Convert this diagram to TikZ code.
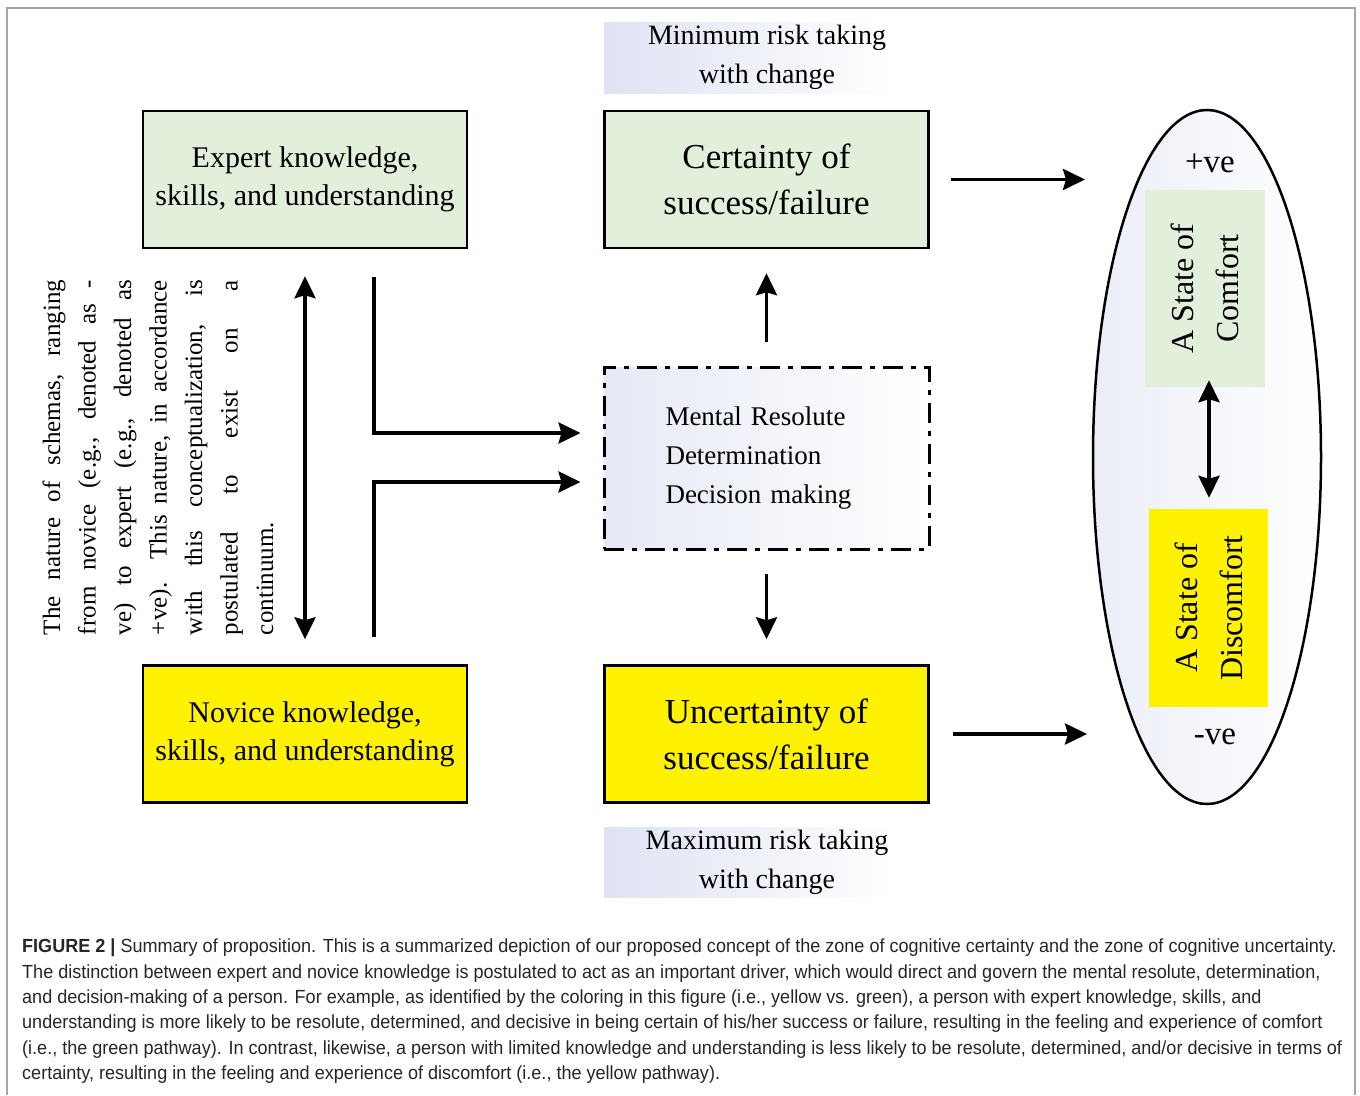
\documentclass[tikz,border=0pt]{standalone}
\usepackage{fontspec}
\setmainfont{Liberation Serif}
\newfontfamily\capfont[FakeStretch=0.95]{Liberation Sans}
\usepackage{xcolor}
\usepackage{tikz}
\usetikzlibrary{positioning,arrows.meta,shapes.geometric}
\definecolor{softgreen}{RGB}{226,239,218}
\definecolor{softblue}{RGB}{222,226,242}
\newcommand{\jline}[1]{\makebox[355pt][s]{#1}}

\begin{document}
\begin{tikzpicture}[x=1pt,y=-1pt,
       Gbox/.style={
           draw,
           line width=2.5pt,
           fill=softgreen,
           minimum width=324pt,
           minimum height=137pt,
           align=center
       },
       Ybox/.style={
           Gbox,
           fill=yellow
       },
       riskshade/.style={left color=softblue, right color=white},
       link/.style={line width=3.5pt, -{Stealth[length=22pt,width=21pt,inset=3pt]}},
       dlink/.style={line width=3.5pt, {Stealth[length=22pt,width=21pt,inset=3pt]}-{Stealth[length=22pt,width=21pt,inset=3pt]}},
       bigfont/.style={font=\fontsize{30}{38}\selectfont},
       hugefont/.style={font=\fontsize{35}{46}\selectfont}
   ]
   \useasboundingbox (0,0) rectangle (1360,1095);

   % frame
   \draw[gray!70, line width=1.5pt] (7,1095) -- (7,8) -- (1355,8) -- (1355,1095);


   % Knowledge side
   \node[Gbox, bigfont] (expert) at (305,179.5) {Expert knowledge,\\skills, and understanding};
   \node[Ybox, bigfont] (novice) at (305,734) {Novice knowledge,\\skills, and understanding};


   % Outcome side
   \node[Gbox, hugefont] (certainty) at (766.5,179.5) {Certainty of\\success/failure};
   \node[Ybox, hugefont] (uncertainty) at (766.5,734) {Uncertainty of\\success/failure};


   % Risk labels
   \fill[riskshade] (604,22) rectangle (890,93);
   \node[align=center, font=\fontsize{28}{39}\selectfont] (minrisk) at (767,57.5) {Minimum risk taking\\with change};
   \fill[riskshade] (604,827) rectangle (893,897);
   \node[align=center, font=\fontsize{28}{39}\selectfont] (maxrisk) at (767,862) {Maximum risk taking\\with change};


   % Mental box
   \node[draw, line width=3pt, dash pattern=on 20pt off 8pt on 5pt off 8pt,
         left color=softblue!75, right color=white,
         minimum width=325pt, minimum height=182pt,
         text width=202pt, align=left,
         font=\fontsize{27}{39}\selectfont] (mental) at (766.5,458)
         {Mental Resolute\\Determination\\Decision making};


   % Continuum text
   \node[rotate=90, align=left, inner sep=0pt, font=\fontsize{25}{35.5}\selectfont] (schema) at (158,457.5)
     {\jline{The nature of schemas, ranging}\\
      \jline{from novice (e.g., denoted as -}\\
      \jline{ve) to expert (e.g., denoted as}\\
      \jline{+ve). This nature, in accordance}\\
      \jline{with this conceptualization, is}\\
      \jline{postulated to exist on a}\\
      continuum.};


   % State ellipse
   \node[ellipse, draw, line width=2.5pt, left color=softblue!60, right color=white,
         minimum width=228pt, minimum height=694pt] (state) at (1207,457) {};
   \node[font=\fontsize{33}{33}\selectfont] (pos) at (1210,163) {+ve};
   \node[font=\fontsize{33}{33}\selectfont] (neg) at (1215,737) {-ve};
   \node[rotate=90, fill=softgreen, minimum width=197pt, minimum height=120pt, align=center,
         font=\fontsize{32}{45}\selectfont] (comfort) at (1205,288.5) {A State of\\Comfort};
   \node[rotate=90, fill=yellow, minimum width=198pt, minimum height=119pt, align=center,
         font=\fontsize{32}{45}\selectfont] (discomfort) at (1208.5,608) {A State of\\Discomfort};


   % Edges
   \draw[dlink, shorten <=27pt, shorten >=25pt] (expert) -- (novice);

   \coordinate (upin) at (374,277);
   \coordinate (downin) at (374,637);
   \draw[link, shorten >=22pt] (upin) |- ([yshift=25pt]mental.west);
   \draw[link, shorten >=22pt] (downin) |- ([yshift=-24pt]mental.west);

   \draw[link, shorten <=24pt, shorten >=24pt] (mental) -- (certainty);
   \draw[link, shorten <=23pt, shorten >=25pt] (mental) -- (uncertainty);

   \coordinate (posin) at (1085,179.5);
   \coordinate (negin) at (1087,734);
   \draw[link, shorten <=21pt] (certainty) -- (posin);
   \draw[link, shorten <=23pt] (uncertainty) -- (negin);

   \draw[dlink, shorten <=-7pt, shorten >=11pt] (comfort.west -| 1209,0) -- (discomfort.east -| 1209,0);


   % Caption
   \node[anchor=north west, align=left, inner sep=0pt, text=black!85,
         font=\capfont\fontsize{19}{25.3}\selectfont] (caption) at (22,939)
     {\textbf{FIGURE 2 |} Summary of proposition. This is a summarized depiction of our proposed concept of the zone of cognitive certainty and the zone of cognitive uncertainty.\\
      The distinction between expert and novice knowledge is postulated to act as an important driver, which would direct and govern the mental resolute, determination,\\
      and decision-making of a person. For example, as identified by the coloring in this figure (i.e., yellow vs. green), a person with expert knowledge, skills, and\\
      understanding is more likely to be resolute, determined, and decisive in being certain of his/her success or failure, resulting in the feeling and experience of comfort\\
      (i.e., the green pathway). In contrast, likewise, a person with limited knowledge and understanding is less likely to be resolute, determined, and/or decisive in terms of\\
      certainty, resulting in the feeling and experience of discomfort (i.e., the yellow pathway).};

   \end{tikzpicture}
\end{document}
